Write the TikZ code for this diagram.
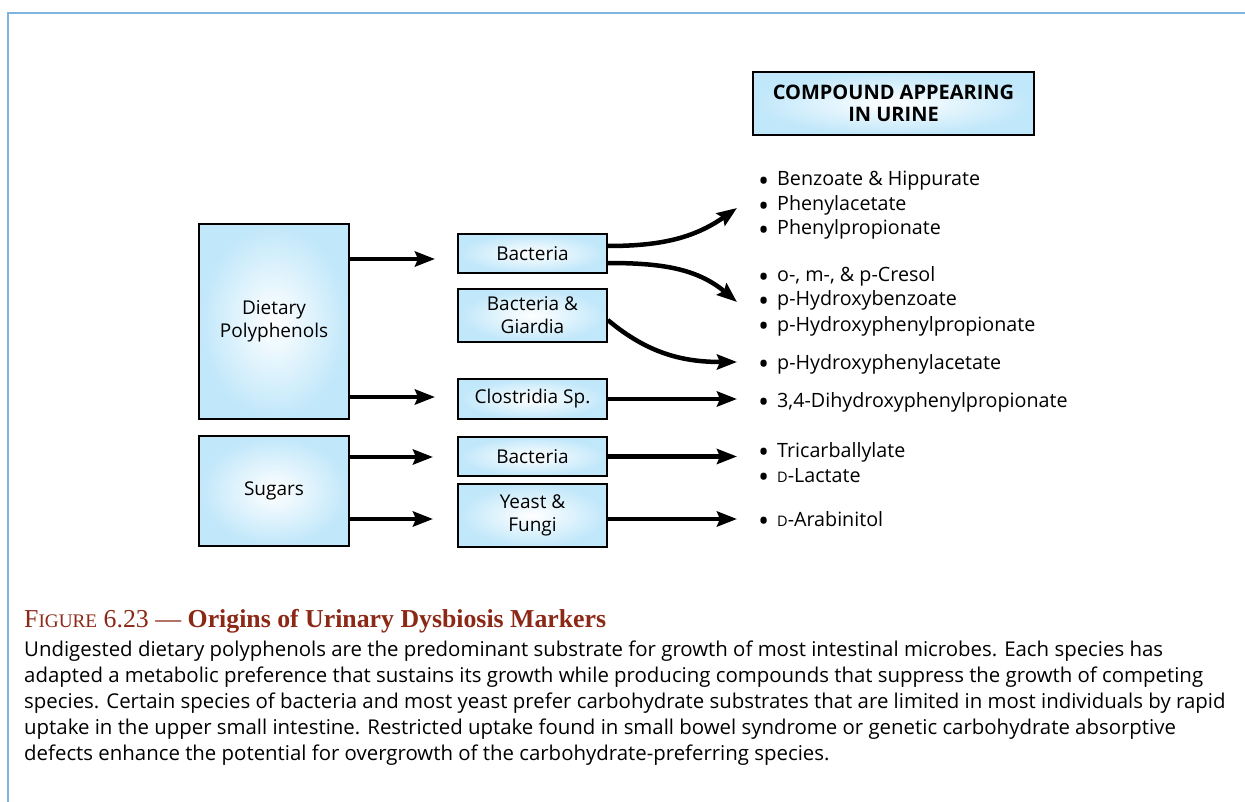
\documentclass[tikz,border=0pt]{standalone}
\usepackage{fontspec}
\setmainfont{Open Sans}
\newfontfamily\titleserif{Liberation Serif}
\usetikzlibrary{arrows.meta}
\definecolor{boxblue}{RGB}{192,231,250}
\definecolor{framecol}{RGB}{125,180,224}
\definecolor{titlered}{RGB}{140,40,22}
\newcommand{\smD}{{\fontsize{14.5}{14}\selectfont D}}
\newcommand{\bul}{\makebox[19pt][l]{\raisebox{-5.5pt}[0pt][0pt]{\scalebox{1.5}{\textbullet}}}}
\begin{document}
\begin{tikzpicture}[x=1pt,y=-1pt,
  box/.style={draw=black,line width=1.6pt,inner color=white,outer color=boxblue,
    minimum width=150pt,align=center,font=\fontsize{19}{23}\selectfont,inner sep=0pt},
  arr/.style={line width=4.5pt,-{Stealth[length=20pt,width=15pt,inset=3pt]}},
  listitem/.style={anchor=base west,inner sep=0pt,text height=13pt,text depth=4pt,font=\fontsize{19.7}{23}\selectfont},
  capline/.style={anchor=base west,inner sep=0pt,text height=15pt,text depth=5pt,font=\fontsize{20.4}{26}\selectfont}]
\useasboundingbox (0,0) rectangle (1245,802);
\fill[white] (0,0) rectangle (1245,802);
% frame
\draw[framecol,line width=2.5pt] (8,802) -- (8,13) -- (1245,13);

% boxes
\node[box,minimum height=195pt] (dp) at (274,321.5) {Dietary\\Polyphenols};
\node[box,minimum height=110pt] (sug) at (274,491) {Sugars};
\node[box,minimum width=149pt,minimum height=39pt] (b1) at (532.5,253.5) {Bacteria};
\node[box,minimum width=149pt,minimum height=53pt] (bg) at (532.5,315.5) {Bacteria \&\\Giardia};
\node[box,minimum width=149pt,minimum height=40pt] (cl) at (532.5,399) {Clostridia Sp.};
\node[box,minimum width=149pt,minimum height=39pt] (b2) at (532.5,456.5) {Bacteria};
\node[box,minimum width=149pt,minimum height=63pt] (yf) at (532.5,515.5) {Yeast \&\\Fungi};
\node[box,minimum width=281pt,minimum height=63pt,font=\fontsize{20}{21.5}\selectfont\bfseries] (hdr) at (893.5,103.5) {COMPOUND APPEARING\\IN URINE};

% arrow ends
\coordinate (t1) at (435,259);
\coordinate (t2) at (435,397);
\coordinate (t3) at (433,457);
\coordinate (t4) at (433,519);
\coordinate (e1) at (737,208);
\coordinate (e2) at (737,302);
\coordinate (e3) at (737,362);
\coordinate (e4) at (737,399);
\coordinate (e5) at (737,456.5);
\coordinate (e6) at (737,519);

\draw[arr] ([yshift=62.5pt]dp.east) -- (t1);
\draw[arr] ([yshift=-75.5pt]dp.east) -- (t2);
\draw[arr] ([yshift=34pt]sug.east) -- (t3);
\draw[arr] ([yshift=-28pt]sug.east) -- (t4);

\draw[arr] ([yshift=7.5pt]b1.east) to[out=0,in=215] (e1);
\draw[arr] ([yshift=-9.5pt]b1.east) to[out=0,in=140] (e2);
\draw[arr] ([yshift=-4.5pt]bg.east) to[out=-40,in=180] (e3);
\draw[arr] (cl.east) -- (e4);
\draw[arr] (b2.east) -- (e5);
\draw[arr] ([yshift=-3.5pt]yf.east) -- (e6);

% compound lists
\node[listitem] (l1) at (758,186) {\bul Benzoate \& Hippurate};
\node[listitem] (l2) at (758,211) {\bul Phenylacetate};
\node[listitem] (l3) at (758,235) {\bul Phenylpropionate};
\node[listitem] (l4) at (758,282) {\bul o-, m-, \& p-Cresol};
\node[listitem] (l5) at (758,306) {\bul p-Hydroxybenzoate};
\node[listitem] (l6) at (758,331) {\bul p-Hydroxyphenylpropionate};
\node[listitem] (l7) at (758,369) {\bul p-Hydroxyphenylacetate};
\node[listitem] (l8) at (758,407) {\bul 3,4-Dihydroxyphenylpropionate};
\node[listitem] (l9) at (758,457) {\bul Tricarballylate};
\node[listitem] (l10) at (758,482) {\bul \smD-Lactate};
\node[listitem] (l11) at (758,526) {\bul \smD-Arabinitol};

% caption
\node[anchor=base west,inner sep=0pt,text=titlered] (ttl) at (24,627)
  {\titleserif\fontsize{25.8}{28}\selectfont F{\fontsize{19.2}{20}\selectfont IGURE} 6.23 — \textbf{Origins of Urinary Dysbiosis Markers}};
\node[capline] (c1) at (24,656) {Undigested dietary polyphenols are the predominant substrate for growth of most intestinal microbes. Each species has};
\node[capline] (c2) at (24,682) {adapted a metabolic preference that sustains its growth while producing compounds that suppress the growth of competing};
\node[capline] (c3) at (24,708) {species. Certain species of bacteria and most yeast prefer carbohydrate substrates that are limited in most individuals by rapid};
\node[capline] (c4) at (24,734) {uptake in the upper small intestine. Restricted uptake found in small bowel syndrome or genetic carbohydrate absorptive};
\node[capline] (c5) at (24,760) {defects enhance the potential for overgrowth of the carbohydrate-preferring species.};
\end{tikzpicture}
\end{document}
